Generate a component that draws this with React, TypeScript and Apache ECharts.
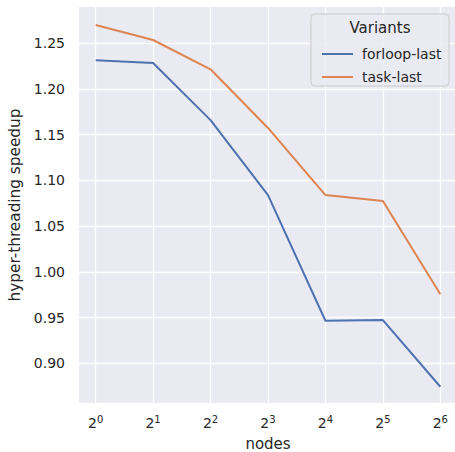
import React, { useEffect, useRef } from "react";
import * as echarts from "echarts";

const exponents = [0, 1, 2, 3, 4, 5, 6];
const forloopLast = [1.2314, 1.2285, 1.166, 1.084, 0.9466, 0.9473, 0.8744];
const taskLast = [1.27, 1.2536, 1.2216, 1.1574, 1.084, 1.0775, 0.9755];
const yTicks = [0.9, 0.95, 1.0, 1.05, 1.1, 1.15, 1.2, 1.25];
const seriesNames = ["forloop-last", "task-last"];
const colors = ["#4C72B0", "#DD8452"];

export default function App() {
  const ref = useRef<HTMLDivElement>(null);
  useEffect(() => {
    if (!ref.current) return;
    const chart = echarts.init(ref.current, null, { renderer: "svg" });
    const font = "DejaVu Sans";
    chart.setOption({
      animation: false,
      backgroundColor: "#ffffff",
      textStyle: { fontFamily: font, color: "#262626" },
      grid: {
        left: 79,
        right: -2,
        top: 7,
        bottom: 49,
        show: true,
        backgroundColor: "#EAEAF2",
        borderWidth: 0,
        containLabel: false,
        outerBoundsMode: "none",
      },
      xAxis: {
        type: "value",
        min: -0.29,
        max: 6.29,
        name: "nodes",
        nameLocation: "middle",
        nameGap: 33,
        nameTextStyle: { fontSize: 15, color: "#262626", fontFamily: font },
        axisLine: { show: false },
        axisTick: { show: false, customValues: exponents },
        splitLine: { show: true, lineStyle: { color: "#ffffff", width: 1.3 } },
        axisLabel: {
          customValues: exponents,
          margin: 11,
          formatter: (v: number) => `{b|2}{s|${Math.round(v)}}`,
          rich: {
            b: { fontSize: 14, color: "#262626", fontFamily: font },
            s: { fontSize: 10, color: "#262626", fontFamily: font, padding: [0, 0, 7, 0] },
          },
        },
      },
      yAxis: {
        type: "value",
        min: 0.8566,
        max: 1.2897,
        name: "hyper-threading speedup",
        nameLocation: "middle",
        nameGap: 53,
        nameTextStyle: { fontSize: 15.3, color: "#262626", fontFamily: font },
        axisLine: { show: false },
        axisTick: { show: false, customValues: yTicks },
        splitLine: { show: true, lineStyle: { color: "#ffffff", width: 1.3 } },
        axisLabel: {
          customValues: yTicks,
          margin: 14,
          fontSize: 14,
          color: "#262626",
          fontFamily: font,
          formatter: (v: number) => v.toFixed(2),
        },
      },
      legend: {
        orient: "vertical",
        left: 317,
        top: 42,
        itemWidth: 31,
        itemHeight: 2,
        itemGap: 9,
        icon: "rect",
        z: 10,
        textStyle: { fontSize: 14, color: "#262626", fontFamily: font, padding: [0, 0, 0, 4] },
        data: seriesNames,
      },
      graphic: [
        {
          type: "rect",
          shape: { x: 311, y: 14, width: 138, height: 72, r: 4 },
          style: { fill: "rgba(234,234,242,0.85)", stroke: "#cccccc", lineWidth: 1 },
          z: 3,
        },
        {
          type: "text",
          x: 380,
          y: 28,
          style: {
            text: "Variants",
            fontSize: 15,
            fontFamily: font,
            fill: "#262626",
            align: "center",
            verticalAlign: "middle",
          },
          z: 4,
        },
      ],
      series: [
        {
          name: seriesNames[0],
          type: "line",
          data: exponents.map((e, i) => [e, forloopLast[i]]),
          showSymbol: false,
          symbol: "none",
          color: colors[0],
          lineStyle: { width: 2, color: colors[0] },
        },
        {
          name: seriesNames[1],
          type: "line",
          data: exponents.map((e, i) => [e, taskLast[i]]),
          showSymbol: false,
          symbol: "none",
          color: colors[1],
          lineStyle: { width: 2, color: colors[1] },
        },
      ],
    });
    return () => chart.dispose();
  }, []);
  return <div ref={ref} style={{ width: 455, height: 452, position: "absolute", left: 0, top: 0 }} />;
}
